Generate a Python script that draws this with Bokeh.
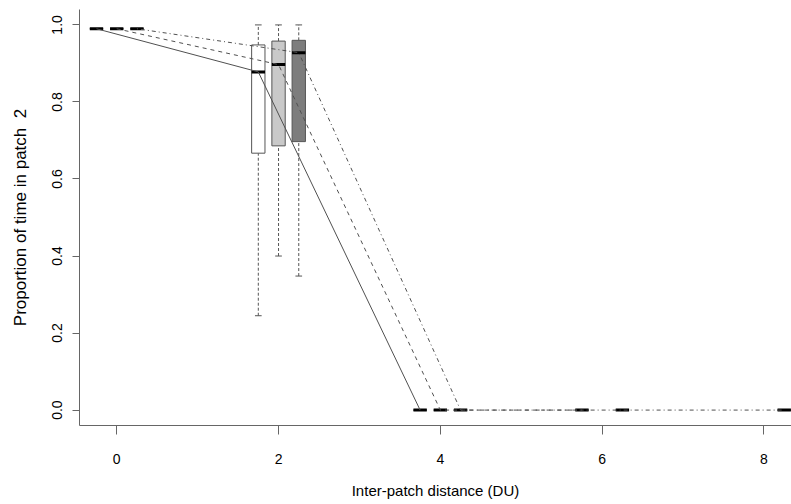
from bokeh.plotting import figure
from bokeh.models import Range1d, FixedTicker, ColumnDataSource
from bokeh.embed import file_html
from bokeh.resources import INLINE

# Box positions along the distance axis, one series per patch configuration
white_x = [-0.25, 1.75, 3.75]
white_lo = [0.99, 0.245, 0.0]
white_q1 = [0.99, 0.667, 0.0]
white_med = [0.99, 0.878, 0.0]
white_q3 = [0.99, 0.948, 0.0]
white_hi = [0.99, 1.0, 0.0]

grey_x = [0.0, 2.0, 4.0, 5.75]
grey_lo = [0.99, 0.40, 0.0, 0.0]
grey_q1 = [0.99, 0.686, 0.0, 0.0]
grey_med = [0.99, 0.897, 0.0, 0.0]
grey_q3 = [0.99, 0.958, 0.0, 0.0]
grey_hi = [0.99, 1.0, 0.0, 0.0]

dark_x = [0.25, 2.25, 4.25, 6.25, 8.25]
dark_lo = [0.99, 0.348, 0.0, 0.0, 0.0]
dark_q1 = [0.99, 0.697, 0.0, 0.0, 0.0]
dark_med = [0.99, 0.928, 0.0, 0.0, 0.0]
dark_q3 = [0.99, 0.960, 0.0, 0.0, 0.0]
dark_hi = [0.99, 1.0, 0.0, 0.0, 0.0]

x_ticks = [0, 2, 4, 6, 8]
y_ticks = [0.0, 0.2, 0.4, 0.6, 0.8, 1.0]

BOX_W = 0.165
FONT = "Liberation Sans"

p = figure(width=791, height=504, output_backend="svg", toolbar_location=None,
           x_range=Range1d(-0.46, 8.34), y_range=Range1d(-0.04, 1.04),
           min_border_left=79, min_border_bottom=79, min_border_top=9,
           min_border_right=0)
p.outline_line_color = None
p.grid.visible = False
p.background_fill_color = "white"
p.border_fill_color = "white"

series = [
    (white_x, white_lo, white_q1, white_med, white_q3, white_hi, "white", None),
    (grey_x, grey_lo, grey_q1, grey_med, grey_q3, grey_hi, "#c9c9c9", "4 4"),
    (dark_x, dark_lo, dark_q1, dark_med, dark_q3, dark_hi, "#7d7d7d", "1 3 4 3"),
]

outline = "#555555"
for xs, lo, q1, med, q3, hi, fill, dash in series:
    src = ColumnDataSource(dict(
        x=xs, lo=lo, q1=q1, med=med, q3=q3, hi=hi,
        left=[v - BOX_W / 2 for v in xs], right=[v + BOX_W / 2 for v in xs],
        cl=[v - BOX_W / 4 for v in xs], cr=[v + BOX_W / 4 for v in xs],
    ))
    # whiskers
    p.segment(x0="x", y0="q3", x1="x", y1="hi", source=src, line_color=outline,
              line_width=1, line_dash="3 2")
    p.segment(x0="x", y0="lo", x1="x", y1="q1", source=src, line_color=outline,
              line_width=1, line_dash="3 2")
    # caps
    p.segment(x0="cl", y0="hi", x1="cr", y1="hi", source=src, line_color=outline, line_width=1)
    p.segment(x0="cl", y0="lo", x1="cr", y1="lo", source=src, line_color=outline, line_width=1)
    # boxes
    p.quad(left="left", right="right", bottom="q1", top="q3", source=src,
           fill_color=fill, line_color=outline, line_width=1)
    # medians
    p.segment(x0="left", y0="med", x1="right", y1="med", source=src,
              line_color="black", line_width=3)

# lines joining the medians of each series
for xs, lo, q1, med, q3, hi, fill, dash in series:
    kw = dict(line_color="#505050", line_width=1)
    if dash:
        kw["line_dash"] = dash
    p.line(xs, med, **kw)

for ax in (p.xaxis[0], p.yaxis[0]):
    ax.axis_line_color = "#666666"
    ax.major_tick_line_color = "#666666"
    ax.minor_tick_line_color = None
    ax.major_tick_in = 0
    ax.major_label_text_font = FONT
    ax.major_label_text_font_size = "14px"
    ax.major_label_text_color = "black"
    ax.axis_label_text_font = FONT
    ax.axis_label_text_font_size = "15px"
    ax.axis_label_text_font_style = "normal"
    ax.axis_label_text_color = "black"

p.xaxis.ticker = FixedTicker(ticks=x_ticks)
p.xaxis.major_tick_out = 9
p.xaxis.major_label_standoff = 19
p.xaxis.axis_label = "Inter-patch distance (DU)"
p.xaxis.axis_label_standoff = 15

p.yaxis.ticker = FixedTicker(ticks=y_ticks)
p.yaxis.major_label_overrides = {v: f"{v:.1f}" for v in y_ticks}
p.yaxis.major_tick_out = 7
p.yaxis.major_label_orientation = "vertical"
p.yaxis.major_label_standoff = 10
p.yaxis.axis_label = "Proportion of time in patch\u00a0 2"
p.yaxis.axis_label_text_font_size = "17px"
p.yaxis.axis_label_standoff = 20

open("out.html", "w").write(file_html(p, INLINE))
